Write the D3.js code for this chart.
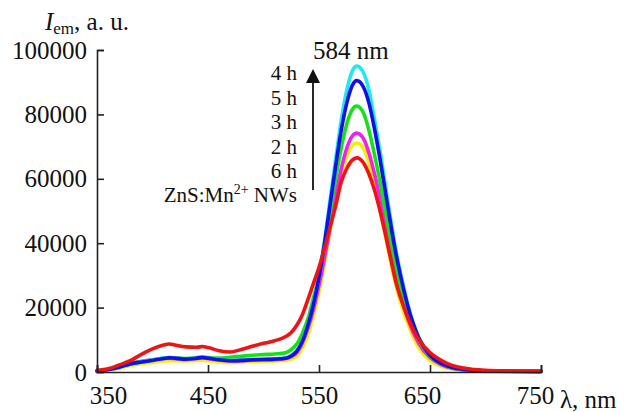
<!DOCTYPE html>
<html>
<head>
<meta charset="utf-8">
<script src="https://cdn.jsdelivr.net/npm/d3@7"></script>
<style>
  html, body { margin: 0; padding: 0; background: #fff; }
  svg { display: block; }
  svg text { font-family: "Liberation Serif", "DejaVu Serif", serif; }
</style>
</head>
<body>
<svg id="chart" width="635" height="412"></svg>
<script>
// Emission wavelength grid (nm)
const wavelengths = [350,360,370,380,390,400,410,415,420,430,440,445,450,460,470,480,490,500,510,520,
  525,530,535,540,545,550,555,560,565,570,575,580,584,590,595,600,605,610,615,620,625,630,
  640,650,660,670,680,690,700,720,750];

// Emission intensity (a. u.) for each sample, on the wavelength grid
const yellowValues = [200,600,1200,2000,2600,3000,3400,3500,3500,3400,3600,3700,3500,3100,2900,3100,3200,3300,3400,3600,
  4000,5000,7500,11500,17500,25000,34000,44000,53500,61500,67000,70300,71100,69500,65000,58500,50500,42000,33500,26000,20000,15000,
  7500,3600,1800,900,500,300,200,150,100];
const magentaValues = [300,800,1700,2700,3300,3800,4200,4300,4200,3900,4200,4400,4200,3700,3400,3500,3700,3800,3900,4200,
  4800,6000,9000,13500,19500,27000,35500,45000,54500,63000,69500,73300,74200,72500,68000,61500,54000,45500,37000,29000,22000,16500,
  8800,4500,2300,1200,700,400,300,200,150];
const greenValues = [300,800,1600,2600,3200,3700,4300,4500,4400,4200,4500,4700,4500,4300,4600,4900,5200,5400,5600,6000,
  7000,8700,12000,16500,23000,30000,39000,49500,60000,69500,77000,81500,82600,80500,75000,67500,59000,49500,40500,32000,24500,18500,
  9800,5000,2600,1300,750,450,300,220,180];
const cyanValues = [300,800,1500,2500,3100,3700,4300,4500,4400,4100,4400,4600,4400,3900,3600,3700,3900,4000,4100,4400,
  5100,6600,9600,14700,21300,30000,41000,53500,66000,78000,87500,93500,95000,93000,87500,78500,68500,57500,46500,36500,28300,21000,
  10700,5300,2700,1400,800,500,350,250,200];
const blueValues = [300,800,1500,2500,3100,3600,4200,4400,4300,4000,4300,4500,4300,3800,3500,3600,3800,3900,4000,4300,
  5000,6500,9500,14500,21000,29500,40000,52000,64000,75000,83500,89000,90500,88500,83500,75500,66000,55500,45000,35500,27500,20500,
  10500,5200,2700,1400,800,500,350,250,200];
const redValues = [500,1000,2200,3500,5500,7200,8400,8700,8400,7800,7700,7900,7600,6600,6200,7000,8000,8900,9700,11000,
  12300,14500,17800,22500,27500,32500,38500,45000,51500,59000,63200,65800,66500,65000,61500,56500,50000,42500,34500,27000,21500,17000,
  10000,6000,3600,2000,1200,800,500,300,200];

// Axis ticks
const xTicks = [350, 450, 550, 650, 750];
const yTicks = [0, 20000, 40000, 60000, 80000, 100000];

// Annealing-time labels beside the arrow, top to bottom
const timeLabels = ["4 h", "5 h", "3 h", "2 h", "6 h"];
const peakLabel = "584 nm";

const series = [
  { values: yellowValues,  color: "#f4ef00" },
  { values: magentaValues, color: "#f020f0" },
  { values: greenValues,   color: "#18e018" },
  { values: cyanValues,    color: "#20e8f4" },
  { values: blueValues,    color: "#1010e6" },
  { values: redValues,     color: "#ee1414" }
];

const serif = "'Liberation Serif', 'DejaVu Serif', serif";
const svg = d3.select("#chart");

const x = d3.scaleLinear().domain([350, 750]).range([97, 541]);
const y = d3.scaleLinear().domain([0, 100000]).range([372, 50]);

// Spectra
const line = d3.line()
  .x((d, i) => x(wavelengths[i]))
  .y(d => y(d))
  .curve(d3.curveMonotoneX);

svg.append("g")
  .selectAll("path")
  .data(series)
  .join("path")
  .attr("d", s => line(s.values))
  .attr("fill", "none")
  .attr("stroke", s => s.color)
  .attr("stroke-width", 3.6)
  .attr("stroke-linejoin", "round")
  .attr("stroke-linecap", "round");

// Axes with inward ticks
const xAxis = svg.append("g")
  .attr("transform", `translate(0,${y(0)})`)
  .call(d3.axisBottom(x).tickValues(xTicks).tickFormat(d3.format("d"))
    .tickSizeInner(-7).tickSizeOuter(-7).tickPadding(14));

const yAxis = svg.append("g")
  .attr("transform", `translate(${x(350)},0)`)
  .call(d3.axisLeft(y).tickValues(yTicks).tickFormat(d3.format("d"))
    .tickSizeInner(-7).tickSizeOuter(-7).tickPadding(10));

[xAxis, yAxis].forEach(g => {
  g.attr("font-family", serif).attr("font-size", 25);
  g.select(".domain").attr("stroke", "#222").attr("stroke-width", 1.6);
  g.selectAll(".tick line").attr("stroke", "#222").attr("stroke-width", 1.6);
  g.selectAll(".tick text")
    .attr("fill", "#111")
    .attr("font-family", serif)
    .attr("font-size", 25);
});

// Shift x tick labels a little as set in the figure
const xLabelNudge = { 350: 11, 650: -8, 750: -6 };
xAxis.selectAll(".tick text").attr("dx", d => xLabelNudge[d] || 0);

// Axis titles
const yTitle = svg.append("text")
  .attr("x", 45).attr("y", 30)
  .attr("fill", "#111")
  .attr("font-family", serif)
  .attr("font-size", 25);
yTitle.append("tspan").attr("font-style", "italic").text("I");
yTitle.append("tspan").attr("dy", 4).attr("font-size", 17).text("em");
yTitle.append("tspan").attr("dy", -4).text(", a. u.");

svg.append("text")
  .attr("x", 560).attr("y", 408)
  .attr("fill", "#111")
  .attr("font-family", serif)
  .attr("font-size", 25)
  .text("λ, nm");

// Peak position
svg.append("text")
  .attr("x", 313).attr("y", 59)
  .attr("fill", "#111")
  .attr("font-family", serif)
  .attr("font-size", 25)
  .text(peakLabel);

// Arrow showing the order of peak intensity
const arrowX = 313;
svg.append("line")
  .attr("x1", arrowX).attr("x2", arrowX)
  .attr("y1", 190).attr("y2", 80)
  .attr("stroke", "#111").attr("stroke-width", 1.8);
svg.append("path")
  .attr("d", d3.line()([[arrowX, 69], [arrowX - 7, 83], [arrowX + 7, 83]]) + "Z")
  .attr("fill", "#111");

svg.append("g")
  .selectAll("text")
  .data(timeLabels)
  .join("text")
  .attr("x", 297)
  .attr("y", (d, i) => 80 + i * 24.5)
  .attr("text-anchor", "end")
  .attr("fill", "#111")
  .attr("font-family", serif)
  .attr("font-size", 21)
  .text(d => d);

const sample = svg.append("text")
  .attr("x", 297).attr("y", 202)
  .attr("text-anchor", "end")
  .attr("fill", "#111")
  .attr("font-family", serif)
  .attr("font-size", 21);
sample.append("tspan").text("ZnS:Mn");
sample.append("tspan").attr("dy", -8).attr("font-size", 14).text("2+");
sample.append("tspan").attr("dy", 8).text(" NWs");
</script>
</body>
</html>
